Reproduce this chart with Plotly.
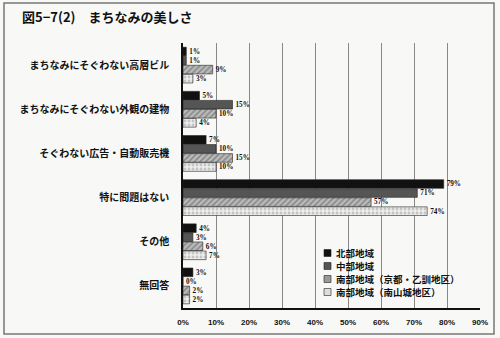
import plotly.graph_objects as go

categories = ["まちなみにそぐわない高層ビル", "まちなみにそぐわない外観の建物", "そぐわない広告・自動販売機",
              "特に問題はない", "その他", "無回答"]
series_names = ["北部地域", "中部地域", "南部地域（京都・乙訓地区）", "南部地域（南山城地区）"]
north = [1, 5, 7, 79, 4, 3]
central = [1, 15, 10, 71, 3, 0]
south_kyoto = [9, 10, 15, 57, 6, 2]
south_yamashiro = [3, 4, 10, 74, 7, 2]
tick_vals = [0, 10, 20, 30, 40, 50, 60, 70, 80, 90]
tick_text = ["0%", "10%", "20%", "30%", "40%", "50%", "60%", "70%", "80%", "90%"]

values = [north, central, south_kyoto, south_yamashiro]
fills = ["#111111", "#555555", "#bbbbbb", "#eeeeee"]
patterns = ["", "", "/", "."]
pfg = ["#111111", "#333333", "#555555", "#999999"]
legend_fill = ["#111111", "#555555", "#999999", "#dddddd"]

FONT = "Noto Sans CJK JP"
W, H = 500, 338
L, R, T, B = 183, 20, 43, 30
PW, PH = W - L - R, H - T - B


def px_x(x):
    return (x - L) / PW


def px_y(y):
    return (H - B - y) / PH


fig = go.Figure()
for name, vals, fc, pat, fg in zip(series_names, values, fills, patterns, pfg):
    fig.add_trace(go.Bar(
        y=categories, x=vals, name=name, orientation="h",
        marker=dict(color=fc, line=dict(color="#222222", width=0.6),
                    pattern=dict(shape=pat, fgcolor=fg, bgcolor=fc, size=4, solidity=0.4)),
        text=[f"{v}%" for v in vals], textposition="outside", cliponaxis=False,
        textfont=dict(size=7.5, color="#111111", family="Liberation Serif", weight=700),
        showlegend=False,
    ))

shapes = [dict(type="rect", xref="paper", yref="paper", x0=px_x(4), x1=px_x(494), y0=px_y(334), y1=px_y(3),
               line=dict(color="#777777", width=1.5), fillcolor="rgba(0,0,0,0)", layer="below")]
annotations = []
rows = [253, 266, 279, 292]
for name, lf, ry in zip(series_names, legend_fill, rows):
    shapes.append(dict(type="rect", xref="paper", yref="paper", x0=px_x(324), x1=px_x(331),
                       y0=px_y(ry + 3.5), y1=px_y(ry - 3.5), fillcolor=lf,
                       line=dict(color="#222222", width=0.6)))
    annotations.append(dict(text=name, xref="paper", yref="paper", x=px_x(335), y=px_y(ry),
                            xanchor="left", yanchor="middle", showarrow=False, borderpad=0,
                            font=dict(size=9.5, family=FONT, weight=700, color="#111111")))

fig.update_layout(
    width=W, height=H,
    margin=dict(l=L, r=R, t=T, b=B),
    paper_bgcolor="#f8f8f6", plot_bgcolor="#f8f8f6",
    barmode="group", bargap=0.18, bargroupgap=0.05,
    font=dict(family=FONT, color="#111111"),
    showlegend=False,
    title=dict(text="図5−7(2)　まちなみの美しさ", xref="container", yref="container",
               x=22 / W, y=1 - 17 / H, xanchor="left", yanchor="middle",
               font=dict(size=13, family=FONT, weight=700)),
    xaxis=dict(range=[0, 90], tickvals=tick_vals, ticktext=tick_text, showgrid=True,
               gridcolor="#888888", gridwidth=1, zeroline=False, showline=True,
               linecolor="#111111", linewidth=1.5, ticks="", ticklabelstandoff=6,
               tickfont=dict(size=8, family="Liberation Sans", weight=700)),
    yaxis=dict(autorange="reversed", showline=True, linecolor="#111111", linewidth=1.5,
               ticks="", tickfont=dict(size=10, family=FONT, weight=700), ticklabelstandoff=10),
    shapes=shapes,
    annotations=annotations,
)
fig.write_html("out.html")
